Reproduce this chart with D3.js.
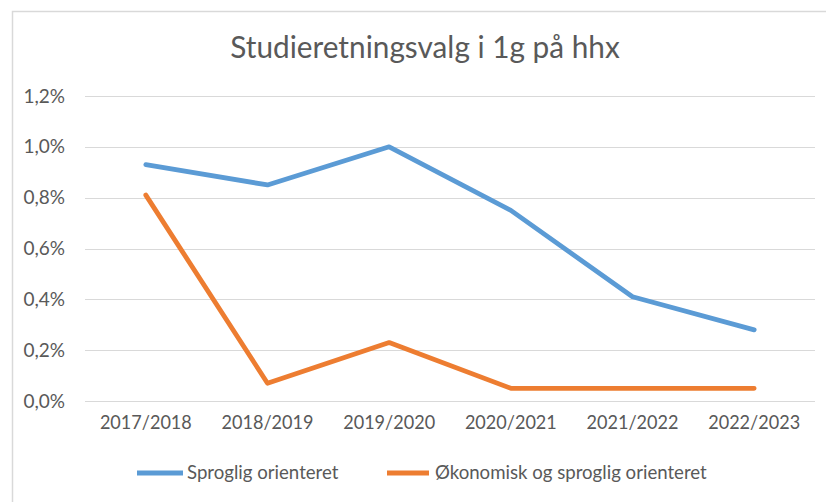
<!DOCTYPE html>
<html>
<head>
<meta charset="utf-8">
<script src="https://cdnjs.cloudflare.com/ajax/libs/d3/7.8.5/d3.min.js"></script>
<style>
    body { margin: 0; background: #fff; }
    svg text { font-family: Lato, "Open Sans", sans-serif; fill: #595959; }
</style>
</head>
<body>
<div id="chart"></div>
<script>
'use strict';

var seasons = ['2017/2018', '2018/2019', '2019/2020', '2020/2021', '2021/2022', '2022/2023'];
var sprogligValues = [0.93, 0.85, 1.0, 0.75, 0.41, 0.28];
var okonomiskValues = [0.81, 0.07, 0.23, 0.05, 0.05, 0.05];
var seriesNames = ['Sproglig orienteret', 'Økonomisk og sproglig orienteret'];
var seriesColors = ['#5B9BD5', '#ED7D31'];
var yTicks = [0, 0.2, 0.4, 0.6, 0.8, 1.0, 1.2];

var width = 826, height = 502;

var svg = d3.select('#chart')
    .append('svg')
    .attr('width', width)
    .attr('height', height);

// squeeze text horizontally (source font is narrow)
function squeeze(sel, k) {
    sel.each(function () {
        var w = this.getComputedTextLength();
        d3.select(this)
            .attr('textLength', w * k)
            .attr('lengthAdjust', 'spacingAndGlyphs');
    });
}

// outer frame
svg.append('rect')
    .attr('x', 12.5)
    .attr('y', 11.5)
    .attr('width', 900)
    .attr('height', 600)
    .attr('fill', 'none')
    .attr('stroke', '#D9D9D9')
    .attr('stroke-width', 1.5);

var title = svg.append('text')
    .attr('x', 425)
    .attr('y', 58)
    .attr('text-anchor', 'middle')
    .style('font-size', '31px')
    .text('Studieretningsvalg i 1g på hhx');
squeeze(title, 0.96);

var x = d3.scaleBand().domain(seasons).range([85, 815]);
var y = d3.scaleLinear().domain([0, 1.2]).range([401, 96]);

var locale = d3.formatLocale({ decimal: ',', thousands: '.', grouping: [3], currency: ['', ' kr'] });
var fmt = function (d) { return locale.format('.1f')(d) + '%'; };

// gridlines
svg.append('g')
    .selectAll('line')
    .data(yTicks)
    .enter()
    .append('line')
    .attr('x1', 85)
    .attr('x2', 815)
    .attr('y1', function (d) { return Math.round(y(d)) + 0.5; })
    .attr('y2', function (d) { return Math.round(y(d)) + 0.5; })
    .attr('stroke', '#D9D9D9')
    .attr('stroke-width', 1.2);

// y axis labels
var yAxis = svg.append('g')
    .attr('transform', 'translate(85,0)')
    .call(d3.axisLeft(y).tickValues(yTicks).tickFormat(fmt).tickSize(0).tickPadding(20));
yAxis.select('.domain').remove();
yAxis.selectAll('text')
    .style('font-size', '19px')
    .call(squeeze, 1.0);

// x axis labels
var xAxis = svg.append('g')
    .attr('transform', 'translate(0,401)')
    .call(d3.axisBottom(x).tickSize(0).tickPadding(15));
xAxis.select('.domain').remove();
xAxis.selectAll('text')
    .style('font-size', '19px')
    .call(squeeze, 0.95);

// lines
var line = d3.line()
    .x(function (d, i) { return x(seasons[i]) + x.bandwidth() / 2; })
    .y(function (d) { return y(d); });

[sprogligValues, okonomiskValues].forEach(function (vals, i) {
    svg.append('path')
        .datum(vals)
        .attr('d', line)
        .attr('fill', 'none')
        .attr('stroke', seriesColors[i])
        .attr('stroke-width', 4.8)
        .attr('stroke-linejoin', 'round')
        .attr('stroke-linecap', 'round');
});

// legend
var legendX = [137, 387];
var legend = svg.append('g')
    .selectAll('g')
    .data(seriesNames)
    .enter()
    .append('g')
    .attr('transform', function (d, i) { return 'translate(' + legendX[i] + ',473)'; });

legend.append('line')
    .attr('x1', 0)
    .attr('x2', function (d, i) { return i === 0 ? 46 : 42; })
    .attr('stroke', function (d, i) { return seriesColors[i]; })
    .attr('stroke-width', 4.8);

legend.append('text')
    .attr('x', function (d, i) { return i === 0 ? 50 : 48; })
    .attr('y', 6)
    .style('font-size', '19px')
    .text(function (d) { return d; })
    .call(squeeze, 0.98);
</script>
</body>
</html>
